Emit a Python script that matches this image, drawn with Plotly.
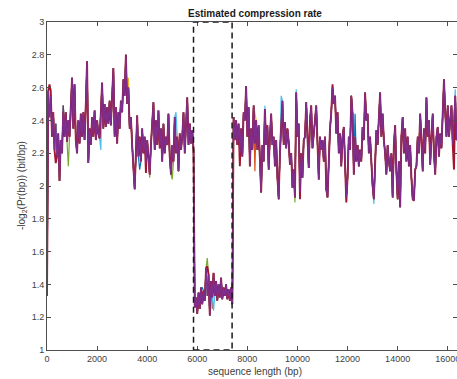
import plotly.graph_objects as go

# ---------------- data ----------------
step_bp = 50  # sampling step of the estimated-rate curves (bp)

rate_purple = [
    # 0 - 950
    1.33, 2.58, 2.42, 2.55, 2.30, 2.45, 2.22, 2.38, 2.18, 2.32,
    2.03, 2.28, 2.20, 2.49, 2.30, 2.45, 2.27, 2.40, 2.30, 2.48,
    # 1000 - 1950
    2.66, 2.35, 2.62, 2.28, 2.20, 2.40, 2.26, 2.44, 2.30, 2.45,
    2.28, 2.50, 2.76, 2.14, 2.35, 2.25, 2.42, 2.30, 2.46, 2.28,
    # 2000 - 2950
    2.40, 2.32, 2.29, 2.45, 2.63, 2.35, 2.50, 2.36, 2.48, 2.38,
    2.52, 2.37, 2.55, 2.72, 2.30, 2.48, 2.26, 2.45, 2.35, 2.52,
    # 3000 - 3950
    2.45, 2.65, 2.55, 2.80, 2.50, 2.60, 2.35, 2.42, 2.25, 2.10,
    1.98, 2.20, 2.43, 2.18, 2.30, 2.15, 2.35, 2.20, 2.30, 2.14,
    # 4000 - 4950
    2.28, 2.18, 2.07, 2.25, 2.35, 2.51, 2.22, 2.40, 2.25, 2.46,
    2.23, 2.35, 2.15, 2.38, 2.20, 2.30, 2.25, 2.44, 2.18, 2.07,
    # 5000 - 5950
    2.25, 2.15, 2.42, 2.20, 2.30, 2.09, 2.32, 2.22, 2.30, 2.45,
    2.20, 2.40, 2.54, 2.25, 2.38, 2.26, 2.34, 2.22, 1.26, 1.32,
    # 6000 - 6950
    1.22, 1.35, 1.25, 1.38, 1.28, 1.36, 1.30, 1.50, 1.33, 1.46,
    1.21, 1.42, 1.32, 1.47, 1.33, 1.42, 1.30, 1.40, 1.32, 1.44,
    # 7000 - 7950
    1.31, 1.38, 1.33, 1.40, 1.31, 1.37, 1.30, 1.38, 1.28, 2.42,
    2.28, 2.40, 2.25, 2.38, 2.20, 2.35, 2.18, 2.45, 2.40, 2.61,
    # 8000 - 8950
    2.30, 2.48, 2.12, 2.35, 2.22, 2.49, 2.26, 2.40, 2.22, 2.37,
    2.12, 1.96, 2.25, 2.15, 2.47, 2.25, 2.37, 2.10, 2.30, 2.44,
    # 9000 - 9950
    2.25, 2.30, 2.12, 2.28, 2.05, 1.92, 2.20, 2.38, 2.52, 2.25,
    2.39, 2.23, 2.35, 2.27, 2.13, 2.20, 1.99, 2.10, 1.93, 2.57,
    # 10000 - 10950
    2.30, 2.38, 1.96, 2.20, 2.05, 2.28, 2.30, 2.51, 2.25, 2.11,
    2.40, 2.49, 2.23, 2.35, 2.40, 2.49, 2.20, 2.04, 2.30, 2.22,
    # 11000 - 11950
    2.28, 2.15, 2.30, 1.98, 1.93, 2.20, 2.35, 2.45, 2.60, 2.50,
    2.55, 2.32, 2.45, 2.20, 2.32, 2.12, 2.30, 2.36, 2.15, 1.93,
    # 12000 - 12950
    2.05, 2.30, 2.22, 2.55, 2.44, 2.07, 2.30, 2.15, 2.25, 2.12,
    2.22, 2.15, 2.36, 2.28, 2.57, 2.40, 2.44, 2.20, 2.30, 2.10,
    # 13000 - 13950
    2.00, 1.92, 2.18, 2.34, 2.25, 2.45, 2.57, 2.30, 2.44, 2.28,
    2.20, 2.07, 2.25, 2.15, 2.09, 2.20, 1.93, 2.25, 2.37, 2.09,
    # 14000 - 14950
    1.92, 2.15, 1.87, 2.30, 2.42, 2.20, 2.35, 2.15, 2.30, 2.12,
    2.25, 2.05, 1.92, 1.91, 2.10, 2.12, 2.30, 2.20, 2.44, 2.28,
    # 15000 - 15950
    2.09, 2.35, 2.20, 2.54, 2.30, 2.40, 2.13, 2.30, 2.44, 2.20,
    2.07, 2.30, 2.36, 2.18, 2.32, 2.23, 2.40, 2.65, 2.45, 2.30,
    # 16000 - 16550
    2.49, 2.30, 2.40, 2.49, 2.25, 2.40, 2.55, 2.28, 2.35, 2.25,
    2.40, 2.30,
]

# other runs coincide with the purple one except where they peek out
# {sample index: value}
peaks_darkred = {2: 2.62, 3: 2.58, 7: 2.14, 13: 2.45, 79: 2.08, 128: 1.51,
                 154: 2.12, 202: 1.92, 228: 2.62, 239: 1.90, 325: 2.10}
peaks_yellow = {65: 2.66, 166: 2.43, 323: 2.44}
peaks_lightblue = {43: 2.22, 103: 2.45, 133: 1.24, 174: 2.49, 187: 2.55,
                   199: 2.59, 261: 1.89, 326: 2.59}
peaks_green = {17: 2.12, 82: 2.05, 100: 2.04, 128: 1.56, 198: 1.90}
peaks_blue = {19: 2.42, 74: 2.10, 124: 1.38, 246: 2.44}
peaks_orange = {132: 1.25, 166: 2.09}

box_x = [5850, 7390]   # dashed region (bp)
box_y = [1, 3]

x_ticks = [0, 2000, 4000, 6000, 8000, 10000, 12000, 14000, 16000]
x_tick_text = ["0", "2000", "4000", "6000", "8000", "10000", "12000", "14000", "16000"]
y_ticks = [1, 1.2, 1.4, 1.6, 1.8, 2, 2.2, 2.4, 2.6, 2.8, 3]
y_tick_text = ["1", "1.2", "1.4", "1.6", "1.8", "2", "2.2", "2.4", "2.6", "2.8", "3"]

title_text = "<b>Estimated compression rate</b>"
x_label = "sequence length (bp)"
y_label = "-log<sub>2</sub>(Pr(bp)) (bit/bp)"

# ---------------- figure ----------------
W, H = 457, 379
ML, MR, MT, MB = 47, 0, 22, 29

xs = [i * step_bp for i in range(len(rate_purple))]


def variant(peaks):
    vals = list(rate_purple)
    for i, v in peaks.items():
        vals[i] = v
    return vals


fig = go.Figure()
layers = [
    (peaks_blue, "#0072BD", 1.2),
    (peaks_orange, "#D95319", 1.2),
    (peaks_yellow, "#EDB120", 1.2),
    (peaks_green, "#77AC30", 1.2),
    (peaks_lightblue, "#4DBEEE", 1.2),
    (peaks_darkred, "#A2142F", 1.9),
]
for pk, col, w in layers:
    fig.add_trace(go.Scatter(x=xs, y=variant(pk), mode="lines",
                             line=dict(color=col, width=w),
                             hoverinfo="skip", showlegend=False))
fig.add_trace(go.Scatter(x=xs, y=rate_purple, mode="lines",
                         line=dict(color="#7E2F8E", width=1.3),
                         hoverinfo="skip", showlegend=False))

fig.add_shape(type="rect", xref="x", yref="y",
              x0=box_x[0], x1=box_x[1], y0=box_y[0], y1=box_y[1],
              line=dict(color="#1a1a1a", width=1.5, dash="6px,4px"),
              layer="above")

FONT = "Liberation Sans, Arial, Helvetica, sans-serif"
axis_col = "#4d4d4d"

fig.update_layout(
    width=W, height=H,
    margin=dict(l=ML, r=MR, t=MT, b=MB, pad=0, autoexpand=False),
    paper_bgcolor="white", plot_bgcolor="white",
    font=dict(family=FONT, size=9, color="#262626"),
    showlegend=False,
    xaxis=dict(range=[0, 16370], tickvals=x_ticks, ticktext=x_tick_text,
               ticks="inside", ticklen=4, automargin=False,
               ticklabeloverflow="allow",
               tickcolor=axis_col, showline=True, linecolor=axis_col, linewidth=1,
               mirror="ticks", showgrid=False, zeroline=False,
               tickfont=dict(size=9, color="#404040")),
    yaxis=dict(range=[1, 3], tickvals=y_ticks, ticktext=y_tick_text,
               ticks="inside", ticklen=4, automargin=False, tickcolor=axis_col,
               showline=True, linecolor=axis_col, linewidth=1, mirror="ticks",
               showgrid=False, zeroline=False,
               tickfont=dict(size=9, color="#404040")),
)

plot_h = H - MT - MB
plot_w = W - ML - MR


def px_to_paper(px, py):
    return (px - ML) / plot_w, (H - MB - py) / plot_h


tx, ty = px_to_paper(255, 13)
xlx, xly = px_to_paper(255, 371)
ylx, yly = px_to_paper(22, 186)
fig.add_annotation(text=title_text, x=tx, y=ty, xref="paper", yref="paper",
                   showarrow=False, xanchor="center", yanchor="middle",
                   font=dict(size=10, color="#1a1a1a", family=FONT))
fig.add_annotation(text=x_label, x=xlx, y=xly, xref="paper", yref="paper",
                   showarrow=False, xanchor="center", yanchor="middle",
                   font=dict(size=10, color="#404040", family=FONT))
fig.add_annotation(text=y_label, x=ylx, y=yly, xref="paper", yref="paper",
                   showarrow=False, xanchor="center", yanchor="middle",
                   textangle=-90, font=dict(size=10, color="#404040", family=FONT))

fig.write_html("out.html", config={"displayModeBar": False},
               post_script="document.body.style.margin='0px';"
                           "document.body.style.overflow='hidden';")
